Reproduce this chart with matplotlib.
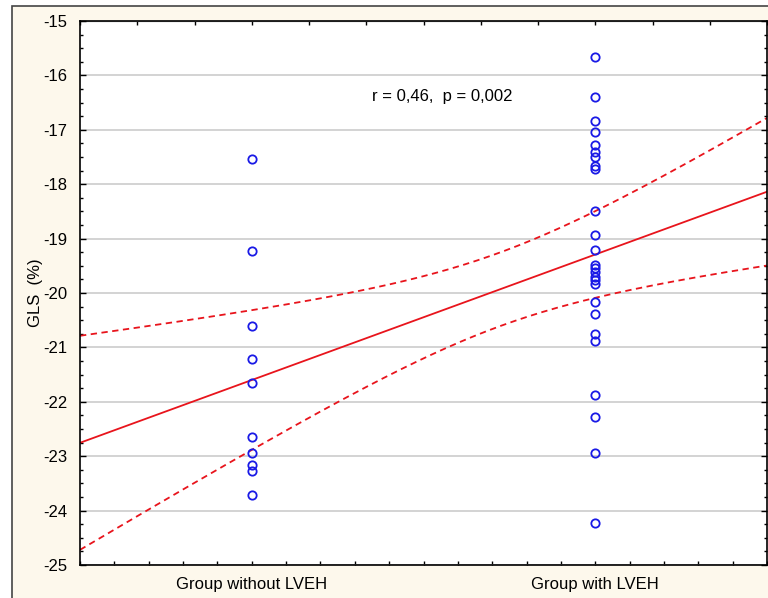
import matplotlib
matplotlib.use("Agg")
import matplotlib.pyplot as plt  # noqa: E402
import numpy as np  # noqa: E402
from matplotlib.patches import Rectangle  # noqa: E402
from matplotlib.ticker import MultipleLocator  # noqa: E402

plt.rcParams["font.family"] = ["Liberation Sans", "DejaVu Sans"]
plt.rcParams["axes.unicode_minus"] = False

# ─── Datos ────────────────────────────────────────────────────────────────
GRUPOS = ["Group without LVEH", "Group with LVEH"]
GLS_SIN = [-17.54, -19.22, -20.61, -21.22, -21.66, -22.65, -22.95, -23.16,
           -23.27, -23.72]
GLS_CON = [-15.66, -16.40, -16.84, -17.04, -17.28, -17.41, -17.50, -17.67,
           -17.72, -18.49, -18.93, -19.21, -19.49, -19.54, -19.61, -19.71,
           -19.76, -19.83, -20.17, -20.39, -20.75, -20.88, -21.87, -22.28,
           -22.94, -24.23]
TEXTO_R = "r = 0,46,  p = 0,002"
Z_CRIT = 1.96  # banda de confianza 95 %

AZUL = "#1a1ae6"
ROJO = "#e8141c"
CREMA = "#fdf8ec"
FS = 12

x = np.concatenate([np.zeros(len(GLS_SIN)), np.ones(len(GLS_CON))])
y = np.array(GLS_SIN + GLS_CON)

# regresión lineal + banda de confianza
b, a = np.polyfit(x, y, 1)
n = len(x)
resid = y - (a + b * x)
s = np.sqrt((resid ** 2).sum() / (n - 2))
xm = x.mean()
sxx = ((x - xm) ** 2).sum()
xs = np.linspace(-0.5, 1.5, 200)
ys = a + b * xs
se = s * np.sqrt(1 / n + (xs - xm) ** 2 / sxx)

fig = plt.figure(figsize=(7.68, 5.98), dpi=100)
fig.patches.append(Rectangle((12 / 768, -0.1), 1.2, 1 - 6 / 598 + 0.1,
                             transform=fig.transFigure, facecolor=CREMA,
                             edgecolor="#444444", linewidth=1.2, zorder=-10))

ax = fig.add_axes([80 / 768, 1 - 565 / 598, 687 / 768, 544 / 598])
ax.set_facecolor("white")

ax.plot(xs, ys, color=ROJO, lw=1.3)
ax.plot(xs, ys + Z_CRIT * se, color=ROJO, lw=1.3, ls=(0, (3.5, 2.5)))
ax.plot(xs, ys - Z_CRIT * se, color=ROJO, lw=1.3, ls=(0, (3.5, 2.5)))
ax.plot(x, y, "o", mfc="none", mec=AZUL, ms=6, mew=1.3, zorder=3)

ax.text(0.349, -16.38, TEXTO_R, fontsize=FS, va="center", ha="left")

ax.set_xlim(-0.5, 1.5)
ax.set_ylim(-25, -15)
ax.set_xticks([0, 1])
ax.set_xticklabels(GRUPOS, fontsize=FS)
ax.xaxis.set_minor_locator(MultipleLocator(0.1))
ax.yaxis.set_major_locator(MultipleLocator(1))
ax.yaxis.set_minor_locator(MultipleLocator(0.25))
ax.tick_params(axis="y", labelsize=FS, direction="in", right=True,
               length=4, width=1, pad=9)
ax.tick_params(axis="y", which="minor", direction="in", right=True,
               length=2, width=1)
ax.tick_params(axis="x", which="both", direction="in", length=3, width=1,
               pad=9)
ax.grid(axis="y", color="#cccccc", lw=1.2)
ax.set_axisbelow(True)
ax.set_ylabel("GLS  (%)", fontsize=FS, labelpad=0)

top = ax.secondary_xaxis("top")
top.set_xticks(np.linspace(-0.5, 1.5, 13))
top.set_xticklabels([])
top.tick_params(direction="in", length=3, width=1)

for sp in ax.spines.values():
    sp.set_color("black")
    sp.set_linewidth(1.2)

fig.savefig("out.png", dpi=100)
plt.close(fig)
